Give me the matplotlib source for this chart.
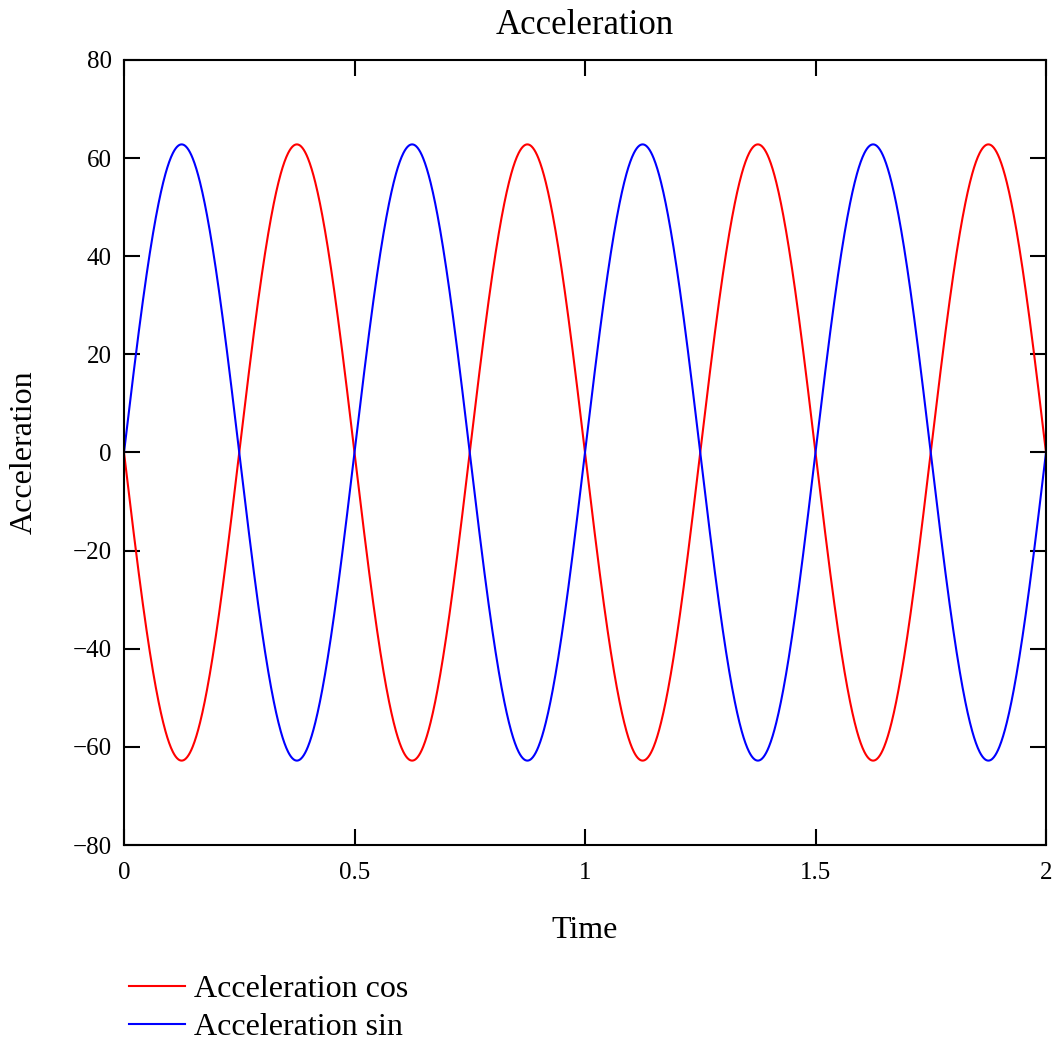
import numpy as np
import matplotlib.pyplot as plt

plt.rcParams['font.family'] = ['Liberation Serif', 'DejaVu Serif']

# values
t_start, t_end = 0.0, 2.0
amplitude = 62.8        # peak height of both curves
period = 0.5            # time for one full wave
series_names = ["Acceleration cos", "Acceleration sin"]
series_colors = ["#ff0000", "#0000ff"]
series_signs = [-1, 1]  # red goes down first, blue goes up first
x_ticks = [0, 0.5, 1, 1.5, 2]
x_tick_labels = ["0", "0.5", "1", "1.5", "2"]
y_ticks = [-80, -60, -40, -20, 0, 20, 40, 60, 80]

t = np.linspace(t_start, t_end, 2001)

fig = plt.figure(figsize=(10.59, 10.42), dpi=100)
ax = fig.add_axes([124 / 1059, 1 - 845 / 1042, 922 / 1059, 785 / 1042])

lines = []
for name, col, sgn in zip(series_names, series_colors, series_signs):
    y = sgn * amplitude * np.sin(2 * np.pi * t / period)
    ln, = ax.plot(t, y, color=col, lw=1.5, label=name)
    lines.append(ln)

ax.set_xlim(t_start, t_end)
ax.set_ylim(-80, 80)
ax.set_xticks(x_ticks)
ax.set_xticklabels(x_tick_labels)
ax.set_yticks(y_ticks)
ax.tick_params(direction='in', length=11.5, width=1.5, labelsize=18,
               top=True, right=True)
ax.tick_params(axis='x', pad=12)
ax.tick_params(axis='y', pad=9)
for s in ax.spines.values():
    s.set_linewidth(1.5)

ax.set_title("Acceleration", fontsize=25, pad=19)
ax.set_xlabel("Time", fontsize=23, labelpad=23)
ax.set_ylabel("Acceleration", fontsize=23, labelpad=24)

fig.legend(lines, series_names, loc='upper left',
           bbox_to_anchor=(116 / 1059, 1 - 962 / 1042), frameon=False,
           fontsize=23, handlelength=1.75, handletextpad=0.3,
           labelspacing=0.26, borderaxespad=0)

fig.savefig("out.png", dpi=100)
